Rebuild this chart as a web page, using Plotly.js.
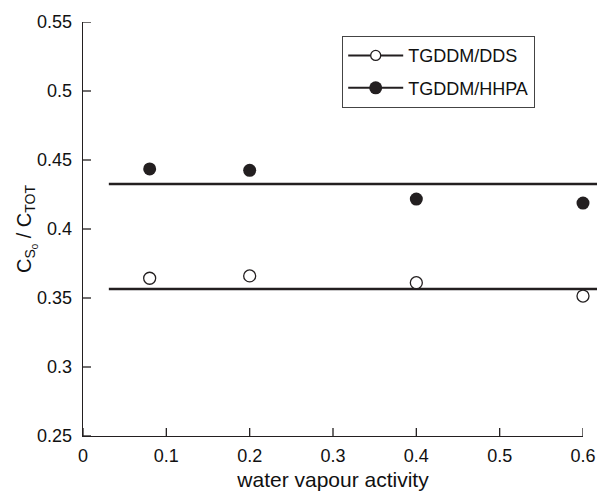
<!DOCTYPE html>
<html><head><meta charset="utf-8">
<script src="https://cdn.plot.ly/plotly-3.0.1.min.js"></script>
<style>html,body{margin:0;padding:0;background:#fff}#chart{width:597px;height:491px}</style>
</head><body><div id="chart"></div>
<script>
const activity = [0.08, 0.2, 0.4, 0.6];
const ddsValues = [0.3643, 0.366, 0.3611, 0.3514];
const hhpaValues = [0.4435, 0.4425, 0.4217, 0.4188];
const fitX = [0.031, 0.617];
const ddsFit = [0.3565, 0.3565];
const hhpaFit = [0.4326, 0.4326];
const seriesNames = ['TGDDM/DDS', 'TGDDM/HHPA'];
const xTicks = [0, 0.1, 0.2, 0.3, 0.4, 0.5, 0.6];
const yTicks = [0.25, 0.3, 0.35, 0.4, 0.45, 0.5, 0.55];

const W = 597, H = 491;
const ML = 83, MR = 0, plotRight = 583;
const fullW = W - ML - MR;
const xDomainEnd = (plotRight - ML) / fullW;
const xMax = 0.6;
const TICKLEN = 8;

const ink = '#231f20';
const FONT = 'Liberation Sans, Arial, sans-serif';
const traces = [
  {x: fitX, y: ddsFit, xaxis: 'x', mode: 'lines', line: {color: ink, width: 2.4}, showlegend: false, hoverinfo: 'skip'},
  {x: fitX, y: hhpaFit, xaxis: 'x', mode: 'lines', line: {color: ink, width: 2.4}, showlegend: false, hoverinfo: 'skip'},
  {x: activity, y: ddsValues, xaxis: 'x2', mode: 'markers', name: seriesNames[0], showlegend: false, cliponaxis: false,
   marker: {symbol: 'circle', size: 12, color: '#fff', line: {width: 1.3, color: ink}}},
  {x: activity, y: hhpaValues, xaxis: 'x2', mode: 'markers', name: seriesNames[1], showlegend: false, cliponaxis: false,
   marker: {symbol: 'circle', size: 13, color: ink, line: {width: 0}}},
  {x: [null], y: [null], xaxis: 'x2', mode: 'lines+markers', name: seriesNames[0], legendgroup: 'a',
   line: {color: ink, width: 2}, marker: {symbol: 'circle', size: 10, color: '#fff', line: {width: 1.3, color: ink}}},
  {x: [null], y: [null], xaxis: 'x2', mode: 'lines+markers', name: seriesNames[1], legendgroup: 'b',
   line: {color: ink, width: 2}, marker: {symbol: 'circle', size: 13, color: ink, line: {width: 0}}}
];

// inside tick marks, placed through the axes' own scales
const tickShapes = []
  .concat(xTicks.map(v => ({
    type: 'line', xref: 'x2', yref: 'paper', ysizemode: 'pixel', yanchor: 0,
    x0: v, x1: v, y0: 0, y1: TICKLEN, line: {color: ink, width: 1.3}, layer: 'above'
  })))
  .concat(yTicks.map(v => ({
    type: 'line', xref: 'paper', yref: 'y', xsizemode: 'pixel', xanchor: 0,
    x0: 0, x1: TICKLEN, y0: v, y1: v, line: {color: ink, width: 1.3}, layer: 'above'
  })));

const axisCommon = {
  showgrid: false, zeroline: false, showline: true, linecolor: ink, linewidth: 1.4,
  ticks: '', tickfont: {family: FONT, size: 18, color: '#111'}
};

const layout = {
  width: W, height: H,
  margin: {l: ML, r: MR, t: 22, b: 55, pad: 0},
  paper_bgcolor: '#fff', plot_bgcolor: 'rgba(0,0,0,0)',
  font: {family: FONT, color: '#111'},
  xaxis: {
    domain: [0, 1], range: [0, xMax / xDomainEnd], anchor: 'y',
    visible: false, showgrid: false, zeroline: false, fixedrange: true
  },
  xaxis2: Object.assign({}, axisCommon, {
    domain: [0, xDomainEnd], anchor: 'y',
    range: [0, xMax], tickmode: 'array', tickvals: xTicks, ticktext: xTicks.map(String),
    ticklabelstandoff: 3,
    title: {text: 'water vapour activity', font: {family: FONT, size: 21, color: '#111'}, standoff: 10}
  }),
  yaxis: Object.assign({}, axisCommon, {
    anchor: 'x',
    range: [0.25, 0.55], tickmode: 'array', tickvals: yTicks, ticktext: yTicks.map(String),
    ticklabelstandoff: 6,
    title: {text: 'C<sub>S<sub>0</sub></sub> / C<sub>TOT</sub>', font: {family: FONT, size: 20, color: '#111'}, standoff: 0}
  }),
  shapes: tickShapes,
  showlegend: true,
  legend: {
    x: (342 - ML) / fullW, y: 1 - (36 - 22) / (H - 22 - 55), xanchor: 'left', yanchor: 'top',
    bgcolor: '#fff', bordercolor: '#444', borderwidth: 1.2,
    font: {family: FONT, size: 18, color: '#111'}, tracegroupgap: 6, traceorder: 'grouped',
    itemwidth: 55
  }
};

Plotly.newPlot('chart', traces, layout, {displayModeBar: false, staticPlot: true});
</script>
</body></html>
